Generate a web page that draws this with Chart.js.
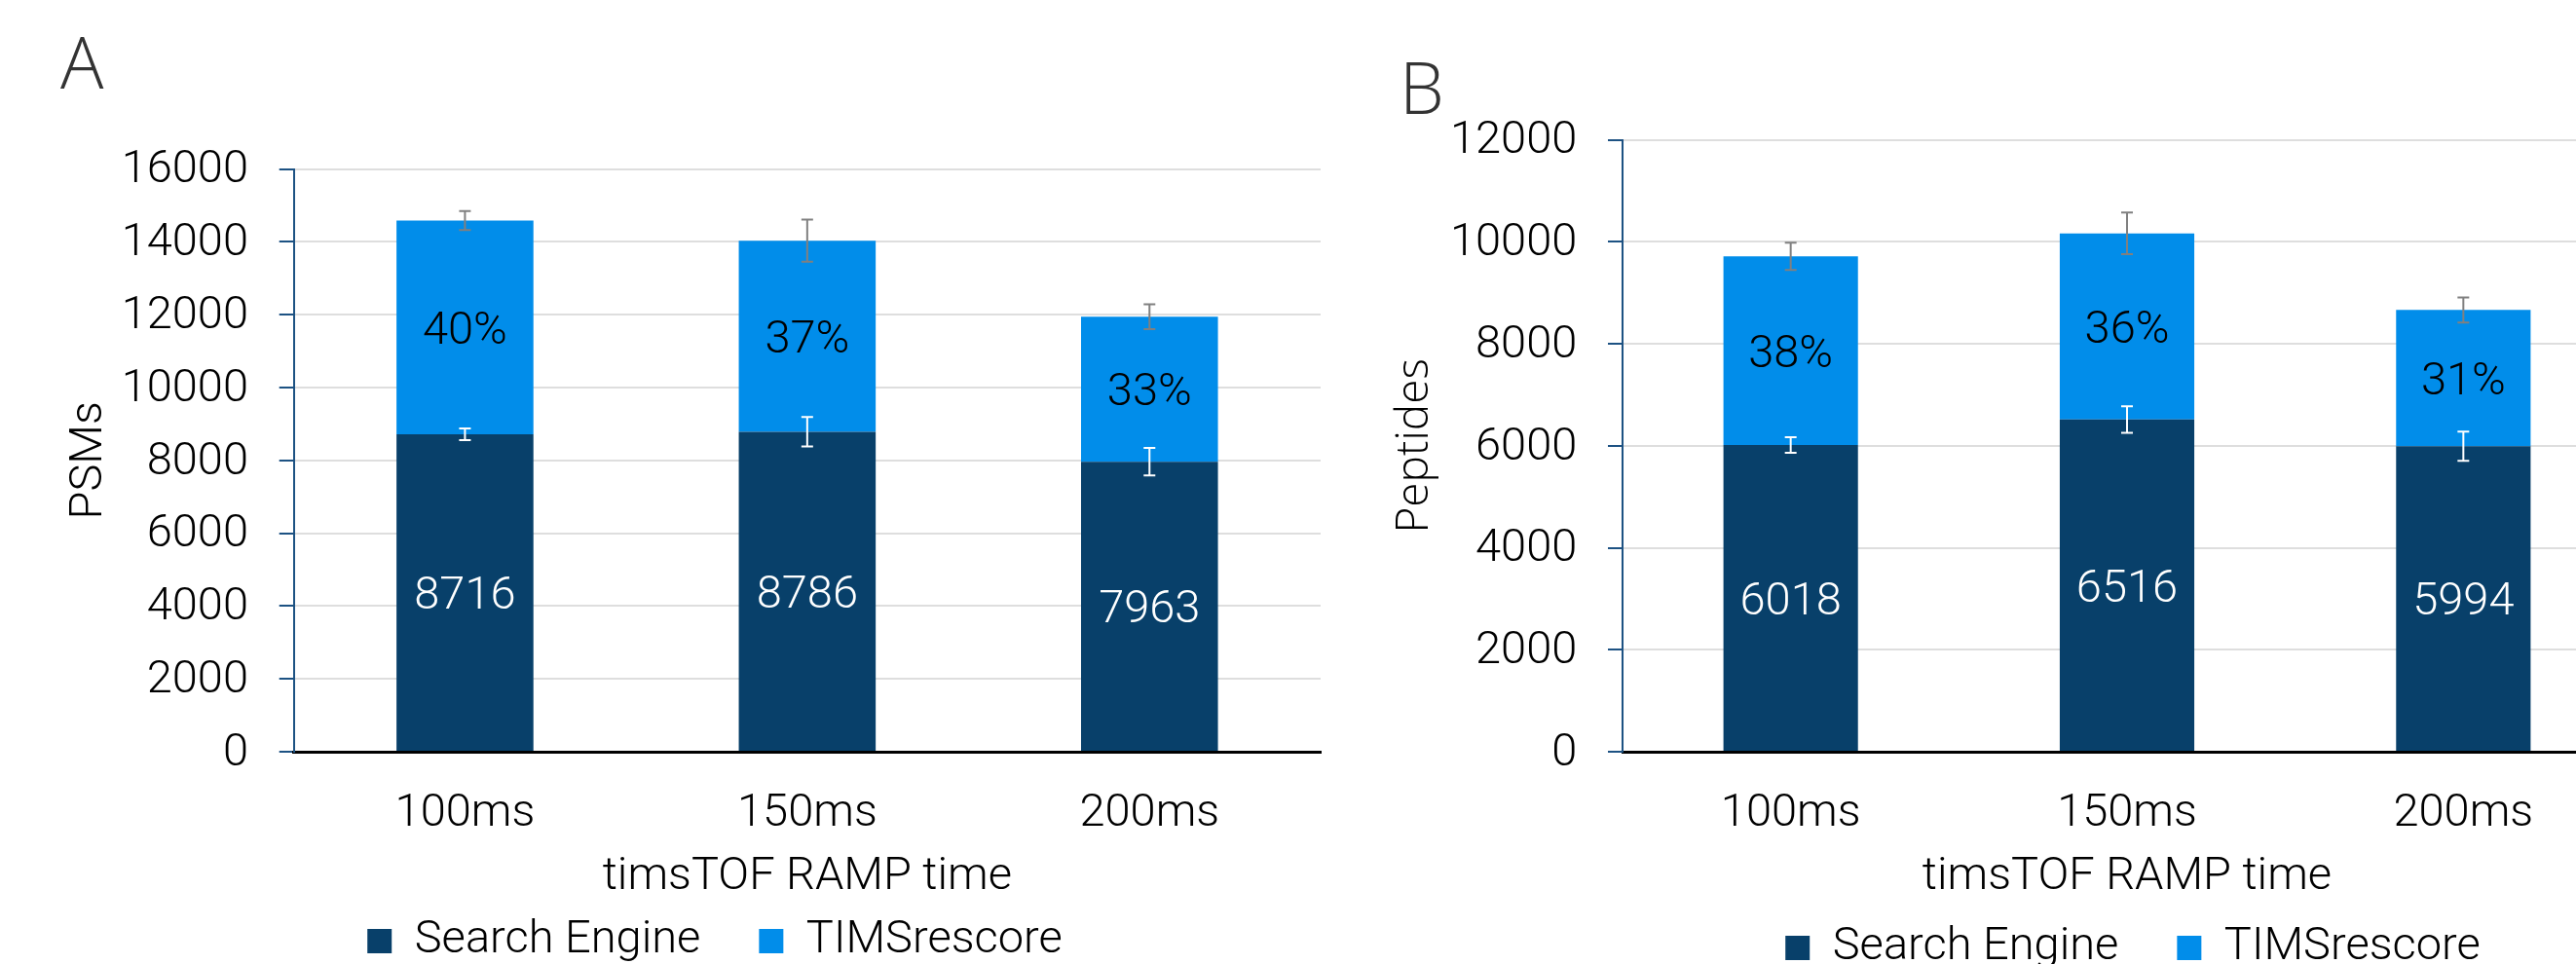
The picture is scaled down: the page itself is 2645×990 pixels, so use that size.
<!DOCTYPE html>
<html>
<head>
<meta charset="utf-8">
<script src="https://cdn.jsdelivr.net/npm/chart.js@4.4.1/dist/chart.umd.min.js"></script>
<style>
  html, body { margin: 0; padding: 0; background: #fff; }
  body { width: 2645px; height: 990px; overflow: hidden; position: relative; }
  canvas { position: absolute; top: 0; }
  #chartA { left: 0; }
  #chartB { left: 1380px; }
  .panel { position: absolute; font-family: "Open Sans"; font-weight: 300; color: #333; line-height: 1; }
</style>
</head>
<body>
<div class="panel" style="left:62px; top:26px; font-size:74px;">A</div>
<div class="panel" style="left:1437px; top:52px; font-size:73px;">B</div>
<canvas id="chartA" width="1468" height="1010"></canvas>
<canvas id="chartB" width="1620" height="1010"></canvas>
<script>
// datos
const categories = ['100ms', '150ms', '200ms'];

const psmSearch = [8716, 8786, 7963];
const psmRescore = [5870, 5250, 3985];
const psmSearchErr = [160, 405, 378];
const psmTotalErr = [262, 580, 343];
const psmPct = ['40%', '37%', '33%'];

const pepSearch = [6018, 6516, 5994];
const pepRescore = [3700, 3650, 2670];
const pepSearchErr = [153, 261, 287];
const pepTotalErr = [267, 408, 245];
const pepPct = ['38%', '36%', '31%'];

const psmMax = 16000;
const pepMax = 12000;
const tickStep = 2000;

const colSearch = '#08406a';
const colRescore = '#018dea';
const axisBlue = '#1d5283';

const txtFont = { family: 'Roboto', weight: 300, size: 47 };

// barras de error (blancas sobre el buscador, grises sobre el total)
function drawErr(ctx, x, y1, y2, color) {
  ctx.strokeStyle = color;
  ctx.beginPath();
  ctx.moveTo(x, y1); ctx.lineTo(x, y2);
  ctx.moveTo(x - 6, y1); ctx.lineTo(x + 6, y1);
  ctx.moveTo(x - 6, y2); ctx.lineTo(x + 6, y2);
  ctx.stroke();
}

const errorBars = {
  id: 'errorBars',
  afterDatasetsDraw(chart, args, opts) {
    const ctx = chart.ctx;
    const y = chart.scales.y;
    const low = chart.getDatasetMeta(0).data;
    const high = chart.getDatasetMeta(1).data;
    const d0 = chart.data.datasets[0].data;
    const d1 = chart.data.datasets[1].data;
    ctx.save();
    ctx.lineWidth = 2;
    d0.forEach((v, i) => {
      const total = v + d1[i];
      drawErr(ctx, high[i].x, y.getPixelForValue(total - opts.total[i]), y.getPixelForValue(total + opts.total[i]), '#808080');
      drawErr(ctx, low[i].x, y.getPixelForValue(v - opts.search[i]), y.getPixelForValue(v + opts.search[i]), '#ffffff');
    });
    ctx.restore();
  }
};

// etiquetas dentro de cada segmento
const segLabels = {
  id: 'segLabels',
  afterDatasetsDraw(chart, args, opts) {
    const ctx = chart.ctx;
    ctx.save();
    ctx.font = '300 47px Roboto';
    ctx.textAlign = 'center';
    ctx.textBaseline = 'middle';
    chart.data.datasets.forEach((ds, di) => {
      chart.getDatasetMeta(di).data.forEach((bar, i) => {
        const p = bar.getProps(['x', 'y', 'base'], true);
        ctx.fillStyle = di === 0 ? '#ffffff' : '#000000';
        const text = di === 0 ? String(ds.data[i]) : opts.pct[i];
        ctx.fillText(text, p.x, (p.y + p.base) / 2 + 5);
      });
    });
    ctx.restore();
  }
};

function makeChart(id, p) {
  return new Chart(document.getElementById(id), {
    type: 'bar',
    data: {
      labels: categories,
      datasets: [
        { label: 'Search Engine', data: p.search, backgroundColor: colSearch, borderColor: colSearch, borderWidth: 0 },
        { label: 'TIMSrescore', data: p.rescore, backgroundColor: colRescore, borderColor: colRescore, borderWidth: 0 }
      ]
    },
    options: {
      responsive: false,
      animation: false,
      devicePixelRatio: 1,
      datasets: { bar: { barPercentage: 0.4, categoryPercentage: 1 } },
      layout: { padding: { top: p.padTop, bottom: p.padBottom, left: 0, right: 0 } },
      plugins: {
        tooltip: { enabled: false },
        legend: {
          position: 'bottom',
          labels: { boxWidth: 25, boxHeight: 25, padding: 60, color: '#000', font: txtFont }
        },
        errorBars: { search: p.searchErr, total: p.totalErr },
        segLabels: { pct: p.pct }
      },
      scales: {
        x: {
          stacked: true,
          z: 1,
          grid: { drawOnChartArea: false, drawTicks: false },
          border: { color: '#000', width: 3 },
          ticks: { padding: 35.8, color: '#000', font: txtFont },
          title: { display: true, text: 'timsTOF RAMP time', color: '#000', font: txtFont,
                   padding: { top: 0, bottom: p.xTitlePad } },
          afterFit(s) { s.height = p.xHeight; }
        },
        y: {
          stacked: true,
          min: 0,
          max: p.max,
          ticks: { stepSize: tickStep, padding: 31.7, labelOffset: 2, color: '#000', font: txtFont, callback: v => String(v) },
          grid: { color: '#dedede', lineWidth: 2, tickColor: axisBlue, tickLength: 15, tickWidth: 2 },
          border: { color: axisBlue, width: 2 },
          title: { display: true, text: p.yTitle, color: '#000', font: p.yTitleFont,
                   padding: { top: p.yTitlePad, bottom: 0 } },
          afterFit(s) { s.width = p.yWidth; }
        },
        // espacio a la derecha para centrar la leyenda como en la figura
        pad: {
          position: 'right',
          display: true,
          ticks: { display: false },
          grid: { display: false },
          border: { display: false },
          afterFit(s) { s.width = p.padRight; }
        }
      }
    },
    plugins: [errorBars, segLabels]
  });
}

makeChart('chartA', {
  search: psmSearch, rescore: psmRescore, searchErr: psmSearchErr, totalErr: psmTotalErr, pct: psmPct,
  max: psmMax, yTitle: 'PSMs', yTitleFont: txtFont, yTitlePad: 63.8,
  padTop: 173.7, padBottom: 10, xHeight: 111, xTitlePad: -46.2, yWidth: 301.7, padRight: 112
});

makeChart('chartB', {
  search: pepSearch, rescore: pepRescore, searchErr: pepSearchErr, totalErr: pepTotalErr, pct: pepPct,
  max: pepMax, yTitle: 'Peptides', yTitleFont: { family: 'Open Sans', weight: 300, size: 46 }, yTitlePad: 44.9,
  padTop: 143.7, padBottom: 3, xHeight: 118, xTitlePad: -39.2, yWidth: 286, padRight: 298
});
</script>
</body>
</html>
